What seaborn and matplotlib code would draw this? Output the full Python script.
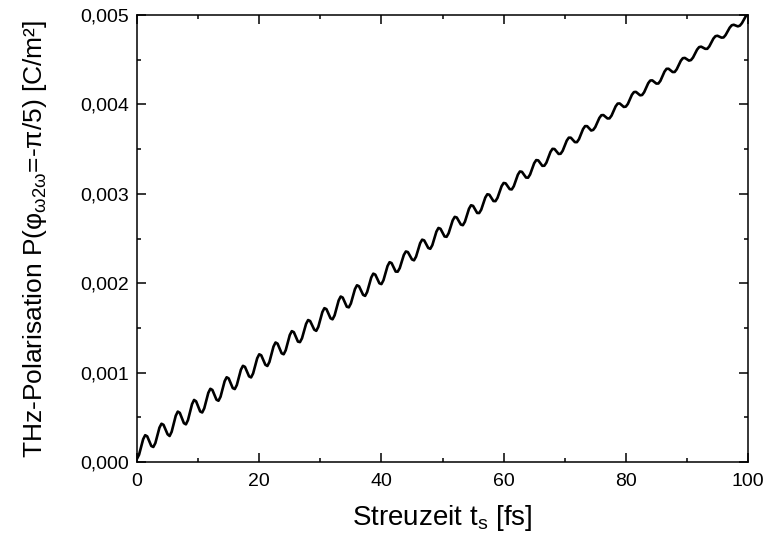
import numpy as np
import pandas as pd
import matplotlib
matplotlib.use("Agg")
import matplotlib.pyplot as plt
from matplotlib.ticker import MultipleLocator, FixedLocator
import seaborn as sns

# THz polarisation, in units of 1e-5 C/m^2,
# sampled every 1/3 fs from 0 fs to 100 fs
p_1e5 = [
    3.7, 8.2, 16.8, 25.5, 30.0, 28.7, 23.3, 17.9,
    16.8, 21.2, 29.8, 38.4, 42.8, 41.6, 36.3, 31.0,
    29.1, 33.8, 42.8, 51.7, 56.4, 55.0, 49.2, 43.5,
    42.1, 46.8, 55.7, 64.7, 69.4, 67.9, 62.2, 56.5,
    55.4, 60.0, 68.7, 77.4, 81.9, 80.6, 75.2, 69.7,
    68.5, 73.0, 81.6, 90.3, 94.8, 93.5, 88.1, 82.7,
    81.6, 86.1, 94.6, 103.2, 107.6, 106.4, 101.1, 95.8,
    94.6, 99.1, 107.6, 116.0, 120.5, 119.3, 114.0, 108.8,
    107.4, 111.9, 120.5, 129.1, 133.7, 132.4, 127.0, 121.6,
    120.5, 125.0, 133.5, 142.0, 146.4, 145.2, 140.0, 134.7,
    134.1, 138.4, 146.4, 154.5, 158.8, 157.7, 152.9, 148.1,
    146.7, 151.1, 159.4, 167.7, 172.1, 171.0, 165.9, 160.8,
    159.6, 164.0, 172.4, 180.7, 185.1, 183.9, 178.8, 173.7,
    173.0, 177.3, 185.3, 193.4, 197.7, 196.6, 191.8, 187.0,
    185.8, 190.2, 198.3, 206.4, 210.7, 209.6, 204.8, 199.9,
    199.0, 203.3, 211.2, 219.2, 223.5, 222.5, 217.7, 213.0,
    212.9, 216.9, 224.2, 231.6, 235.5, 234.8, 230.7, 226.6,
    225.6, 229.7, 237.2, 244.7, 248.7, 247.9, 243.6, 239.4,
    238.5, 242.6, 250.1, 257.7, 261.8, 260.9, 256.6, 252.3,
    251.9, 255.9, 263.1, 270.3, 274.2, 273.5, 269.6, 265.6,
    264.9, 268.8, 276.0, 283.3, 287.2, 286.5, 282.5, 278.6,
    278.5, 282.2, 289.0, 295.8, 299.5, 299.0, 295.5, 291.9,
    291.8, 295.5, 302.0, 308.5, 312.1, 311.7, 308.4, 305.2,
    304.9, 308.5, 314.9, 321.4, 325.0, 324.6, 321.4, 318.2,
    318.0, 321.6, 327.9, 334.2, 337.7, 337.4, 334.4, 331.3,
    331.4, 334.8, 340.8, 346.8, 350.3, 350.1, 347.3, 344.6,
    344.8, 348.1, 353.8, 359.5, 362.8, 362.8, 360.3, 357.8,
    357.8, 361.1, 366.8, 372.4, 375.7, 375.7, 373.2, 370.8,
    371.5, 374.6, 379.7, 384.8, 387.9, 388.1, 386.2, 384.3,
    384.4, 387.5, 392.7, 397.8, 400.9, 401.1, 399.2, 397.2,
    397.5, 400.5, 405.6, 410.8, 413.8, 414.0, 412.1, 410.2,
    410.5, 413.6, 418.6, 423.7, 426.7, 426.9, 425.1, 423.3,
    423.4, 426.4, 431.6, 436.7, 439.8, 439.9, 438.0, 436.2,
    436.3, 439.3, 444.0, 448.8, 451.7, 452.0, 450.5, 449.0,
    449.6, 452.4, 456.9, 461.3, 464.1, 464.6, 463.4, 462.2,
    462.2, 464.9, 469.2, 473.6, 476.3, 476.8, 475.7, 474.7,
    474.9, 477.6, 481.7, 485.8, 488.5, 489.1, 488.2, 487.3,
    488.1, 490.8, 494.9, 499.0, 501.6,
]
sample_step_fs = 1.0 / 3.0

x_ticks = [0, 20, 40, 60, 80, 100]
x_tick_labels = ["0", "20", "40", "60", "80", "100"]
y_ticks = [0.000, 0.001, 0.002, 0.003, 0.004, 0.005]
y_tick_labels = ["0,000", "0,001", "0,002", "0,003", "0,004", "0,005"]

df = pd.DataFrame({
    "t": np.arange(len(p_1e5)) * sample_step_fs,
    "P": np.array(p_1e5) * 1e-5,
})

sns.set_theme(style="ticks")
plt.rcParams["font.family"] = ["Liberation Sans", "DejaVu Sans"]
plt.rcParams["mathtext.fontset"] = "custom"
plt.rcParams["mathtext.rm"] = "Liberation Sans"
plt.rcParams["mathtext.it"] = "Liberation Sans:italic"

fig = plt.figure(figsize=(7.66, 5.42), dpi=100)
ax = fig.add_axes([0.1789, 0.1476, 0.7976, 0.8247])

sns.lineplot(data=df, x="t", y="P", color="black", linewidth=1.9, ax=ax,
             estimator=None, sort=False)

ax.set_xlim(0, 100)
ax.set_ylim(0, 0.005)
ax.xaxis.set_major_locator(FixedLocator(x_ticks))
ax.set_xticklabels(x_tick_labels)
ax.yaxis.set_major_locator(FixedLocator(y_ticks))
ax.set_yticklabels(y_tick_labels)
ax.xaxis.set_minor_locator(MultipleLocator(10))
ax.yaxis.set_minor_locator(MultipleLocator(0.0005))

ax.tick_params(which="both", direction="in", top=True, right=True,
               colors="black", width=1.1, labelsize=14)
ax.tick_params(which="major", length=6.5)
ax.tick_params(axis="x", which="major", pad=8)
ax.tick_params(axis="y", which="major", pad=6)
ax.tick_params(which="minor", length=3.2)
for s in ax.spines.values():
    s.set_visible(True)
    s.set_color("black")
    s.set_linewidth(1.1)

ax.set_xlabel(r"Streuzeit t$_\mathrm{s}$ [fs]", fontsize=20, labelpad=9,
              color="black")
ax.set_ylabel(r"THz-Polarisation P(φ$_{\mathrm{ω2ω}}$=-π/5) [C/m²]",
              fontsize=19, labelpad=22, color="black")

fig.savefig("out.png", dpi=100)
